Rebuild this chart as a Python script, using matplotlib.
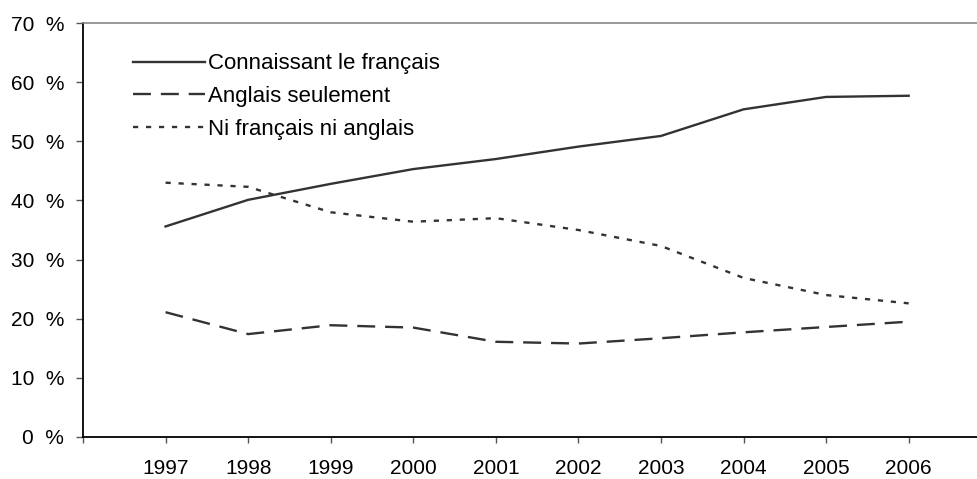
import matplotlib.pyplot as plt

plt.rcParams['font.family'] = ['Liberation Sans', 'DejaVu Sans']

years = [1997, 1998, 1999, 2000, 2001, 2002, 2003, 2004, 2005, 2006]
francais = [35.6, 40.1, 42.8, 45.3, 47.0, 49.1, 50.9, 55.4, 57.5, 57.7]
anglais = [21.1, 17.4, 18.9, 18.5, 16.1, 15.8, 16.7, 17.7, 18.6, 19.5]
ni_ni = [43.0, 42.3, 38.0, 36.4, 37.0, 35.0, 32.3, 26.9, 24.0, 22.6]
labels = ['Connaissant le français', 'Anglais seulement', 'Ni français ni anglais']

fig = plt.figure(figsize=(9.78, 4.79), dpi=100)
ax = fig.add_axes([83 / 978, 42 / 479, 1 - 83 / 978, 414 / 479])

col = '#333333'
lw = 1.7
ax.plot(years, francais, color=col, lw=lw, label=labels[0])
ax.plot(years, anglais, color=col, lw=lw, linestyle=(0, (7.6, 4.2)), label=labels[1])
ax.plot(years, ni_ni, color=col, lw=lw, linestyle=(0, (2.2, 3.3)), label=labels[2])

ax.set_xlim(1996, 2006.84)
ax.set_ylim(0, 70)
ax.set_xticks([1996] + years)
ax.set_xticklabels([''] + [str(y) for y in years])
ax.set_yticks(range(0, 71, 10))
ax.set_yticklabels([f'{v}  %' for v in range(0, 71, 10)])

ax.spines['right'].set_visible(False)
ax.spines['top'].set_color('#888888')
ax.spines['top'].set_linewidth(1.2)
ax.spines['left'].set_linewidth(1.3)
ax.spines['bottom'].set_linewidth(1.3)
ax.tick_params(axis='x', direction='out', length=4, width=1, color='#555555', pad=12, labelsize=15)
ax.tick_params(axis='y', direction='out', length=5, width=1, color='#555555', pad=8.5, labelsize=15)

leg = ax.legend(loc='upper left', bbox_to_anchor=(0.046, 0.948), frameon=False,
                fontsize=16, handlelength=3.25, handletextpad=0.1, labelspacing=0.52,
                borderaxespad=0)

fig.savefig('out.png', dpi=100)
